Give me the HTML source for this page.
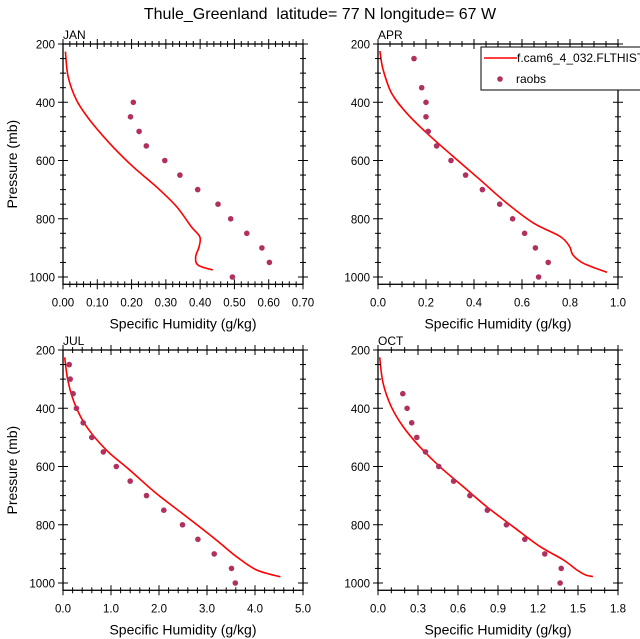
<!DOCTYPE html>
<html><head><meta charset="utf-8">
<style>
html,body{margin:0;padding:0;background:#fff;}
svg{display:block;font-family:"Liberation Sans",Arial,sans-serif;}
</style></head>
<body>
<svg id="chart" width="640" height="639" viewBox="0 0 640 639" xmlns="http://www.w3.org/2000/svg">
<text x="320" y="19" font-size="16" text-anchor="middle" xml:space="preserve">Thule_Greenland  latitude= 77 N longitude= 67 W</text>
</svg>
<script>
// ---- data ----
const janObsP = [400,450,500,550,600,650,700,750,800,850,900,950,1000];
const janObsQ = [0.205,0.197,0.222,0.243,0.297,0.341,0.393,0.452,0.489,0.536,0.580,0.602,0.494];
const janModP = [226,312,392,461,541,621,690,758,827,862,896,930,959,976];
const janModQ = [0.007,0.015,0.039,0.078,0.136,0.204,0.272,0.331,0.374,0.399,0.397,0.387,0.394,0.437];

const aprObsP = [250,350,400,450,500,550,600,650,700,750,800,850,900,950,1000];
const aprObsQ = [0.150,0.182,0.200,0.200,0.209,0.244,0.304,0.365,0.435,0.507,0.561,0.611,0.656,0.709,0.669];
const aprModP = [224,287,368,436,505,586,666,746,815,861,895,924,953,984];
const aprModQ = [0.008,0.021,0.056,0.118,0.202,0.313,0.425,0.536,0.648,0.759,0.798,0.812,0.856,0.954];

const julObsP = [250,300,350,400,450,500,550,600,650,700,750,800,850,900,950,1000];
const julObsQ = [0.13,0.15,0.21,0.28,0.42,0.60,0.84,1.11,1.40,1.74,2.10,2.49,2.81,3.15,3.51,3.59];
const julModP = [225,303,383,463,543,612,692,772,852,909,955,979];
const julModQ = [0.035,0.10,0.24,0.49,0.90,1.39,1.94,2.57,3.19,3.61,4.03,4.53];

const octObsP = [350,400,450,500,550,600,650,700,750,800,850,900,950,1000];
const octObsQ = [0.186,0.218,0.253,0.291,0.356,0.456,0.567,0.689,0.820,0.963,1.101,1.251,1.374,1.366];
const octModP = [225,314,395,463,532,601,669,738,807,875,921,955,972,978];
const octModQ = [0.013,0.038,0.10,0.188,0.313,0.464,0.639,0.815,1.015,1.216,1.391,1.491,1.554,1.612];

const janTicks = ["0.00","0.10","0.20","0.30","0.40","0.50","0.60","0.70"];
const aprTicks = ["0.0","0.2","0.4","0.6","0.8","1.0"];
const julTicks = ["0.0","1.0","2.0","3.0","4.0","5.0"];
const octTicks = ["0.0","0.3","0.6","0.9","1.2","1.5","1.8"];
const yTicks = [200,400,600,800,1000];

const NS = "http://www.w3.org/2000/svg";
const svg = document.getElementById("chart");
function mk(tag, attrs, parent){
  const e = document.createElementNS(NS, tag);
  for (const k in attrs) e.setAttribute(k, attrs[k]);
  (parent||svg).appendChild(e);
  return e;
}
function smoothPath(pts){
  let d = "M" + pts[0][0].toFixed(1) + "," + pts[0][1].toFixed(1);
  for (let i = 0; i < pts.length - 1; i++) {
    const p0 = pts[Math.max(0,i-1)], p1 = pts[i], p2 = pts[i+1], p3 = pts[Math.min(pts.length-1,i+2)];
    const c1x = p1[0] + (p2[0]-p0[0])/6, c1y = p1[1] + (p2[1]-p0[1])/6;
    const c2x = p2[0] - (p3[0]-p1[0])/6, c2y = p2[1] - (p3[1]-p1[1])/6;
    d += "C" + c1x.toFixed(1) + "," + c1y.toFixed(1) + " " + c2x.toFixed(1) + "," + c2y.toFixed(1) + " " + p2[0].toFixed(1) + "," + p2[1].toFixed(1);
  }
  return d;
}

const panels = [
  {name:"jan", label:"JAN", x0:63, x1:303, y200:44, y1000:277, xmax:0.7, ticks:janTicks, minor:5, obsP:janObsP, obsQ:janObsQ, modP:janModP, modQ:janModQ, ytitle:true},
  {name:"apr", label:"APR", x0:378, x1:618, y200:44, y1000:277, xmax:1.0, ticks:aprTicks, minor:4, obsP:aprObsP, obsQ:aprObsQ, modP:aprModP, modQ:aprModQ, ytitle:false, legend:true},
  {name:"jul", label:"JUL", x0:63, x1:303, y200:350, y1000:583, xmax:5.0, ticks:julTicks, minor:5, obsP:julObsP, obsQ:julObsQ, modP:julModP, modQ:julModQ, ytitle:true},
  {name:"oct", label:"OCT", x0:378, x1:618, y200:350, y1000:583, xmax:1.8, ticks:octTicks, minor:3, obsP:octObsP, obsQ:octObsQ, modP:octModP, modQ:octModQ, ytitle:false}
];

panels.forEach(pn => {
  const g = mk("g", {});
  
  
  const xs = v => pn.x0 + v / pn.xmax * (pn.x1 - pn.x0);
  const ys = p => pn.y200 + (p - 200) / 800 * (pn.y1000 - pn.y200);
  const top = ys(200), bot = ys(1025);

  // model line
  const pts = pn.modP.map((p,i) => [xs(pn.modQ[i]), ys(p)]);
  const line = mk("path", {d:smoothPath(pts), fill:"none", stroke:"#ff0000", "stroke-width":1.6, "stroke-linejoin":"round"}, g);
  
  

  // obs points
  pn.obsP.forEach((p,i) => {
    const c = mk("circle", {cx:xs(pn.obsQ[i]).toFixed(1), cy:ys(p).toFixed(1), r:2.8, fill:"#b03060"}, g);
    
    
  });

  // frame
  const fr = mk("rect", {x:pn.x0, y:top, width:pn.x1-pn.x0, height:bot-top, fill:"none", stroke:"#000", "stroke-width":1.3}, g);
  
  

  // x ticks
  const n = pn.ticks.length - 1;
  for (let i = 0; i <= n * pn.minor; i++) {
    const x = pn.x0 + i / (n * pn.minor) * (pn.x1 - pn.x0);
    const major = i % pn.minor === 0;
    const L = major ? 5 : 3;
    mk("line", {x1:x, x2:x, y1:bot-L, y2:bot+L, stroke:"#000", "stroke-width":1}, g);
    mk("line", {x1:x, x2:x, y1:top-L, y2:top+L, stroke:"#000", "stroke-width":1}, g);
  }
  pn.ticks.forEach((t,i) => {
    const tx = mk("text", {x:pn.x0 + i / n * (pn.x1 - pn.x0), y:bot+22, "font-size":11.5, "text-anchor":"middle"}, g);
    tx.textContent = t;
    
    
  });
  // y ticks
  for (let p = 200; p <= 1000; p += 50) {
    const y = ys(p);
    const major = p % 200 === 0;
    const L = major ? 5 : 3;
    mk("line", {x1:pn.x0-L, x2:pn.x0+L, y1:y, y2:y, stroke:"#000", "stroke-width":1}, g);
    mk("line", {x1:pn.x1-L, x2:pn.x1+L, y1:y, y2:y, stroke:"#000", "stroke-width":1}, g);
  }
  yTicks.forEach(p => {
    const tx = mk("text", {x:pn.x0-8, y:ys(p)+4.5, "font-size":11.5, "text-anchor":"end"}, g);
    tx.textContent = String(p);
    
    
  });
  // label
  const lb = mk("text", {x:pn.x0, y:top-5, "font-size":12}, g);
  lb.textContent = pn.label;
  
  
  // x title
  const xt = mk("text", {x:(pn.x0+pn.x1)/2, y:bot+44, "font-size":14, "text-anchor":"middle"}, g);
  xt.textContent = "Specific Humidity (g/kg)";
  
  
  if (pn.ytitle) {
    const cy = (top+bot)/2;
    const yt = mk("text", {x:17, y:cy, "font-size":14, "text-anchor":"middle", transform:"rotate(-90 17 " + cy + ")"}, g);
    yt.textContent = "Pressure (mb)";
    
    
  }
  if (pn.legend) {
    const lg = mk("g", {}, g);
    
    
    mk("rect", {x:481, y:47, width:170, height:43, fill:"#fff", stroke:"#000", "stroke-width":1}, lg);
    const e1 = mk("line", {x1:484, x2:517, y1:58, y2:58, stroke:"#ff0000", "stroke-width":1.6}, lg);
    
    
    const t1 = mk("text", {x:517, y:62, "font-size":12}, lg);
    t1.textContent = "f.cam6_4_032.FLTHIST";
    
    
    const e2 = mk("circle", {cx:500, cy:79, r:2.8, fill:"#b03060"}, lg);
    
    
    const t2 = mk("text", {x:516, y:83, "font-size":12}, lg);
    t2.textContent = "raobs";
    
    
  }
});
</script>
</body></html>
